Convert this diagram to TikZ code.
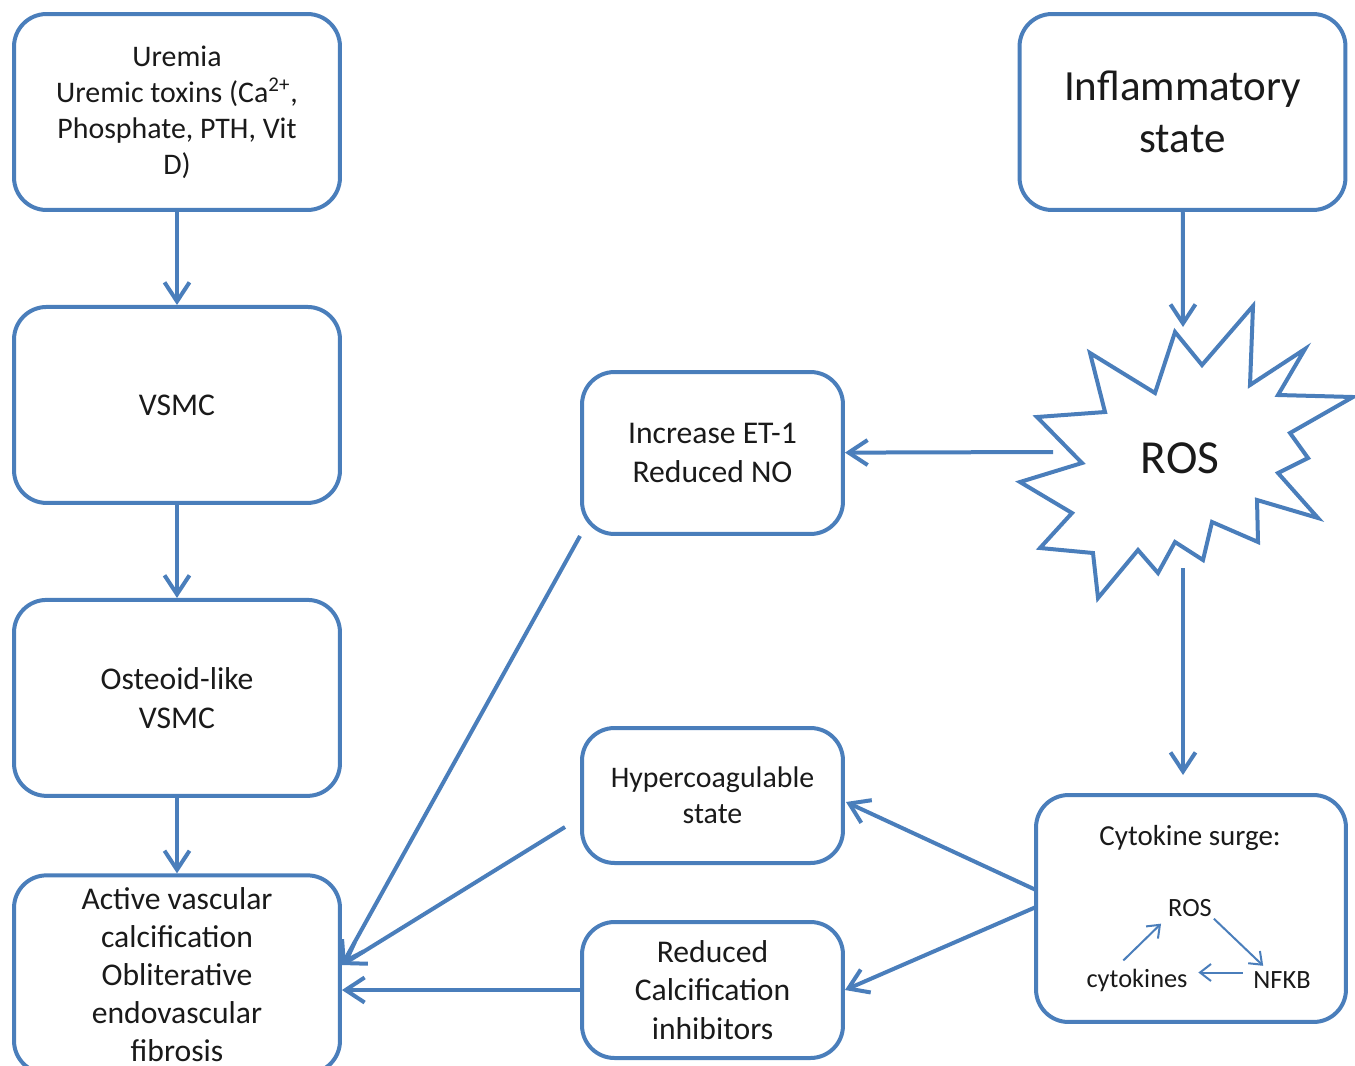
\documentclass[tikz,border=0pt]{standalone}
\usepackage{fontspec}
\setmainfont{Carlito}
\usetikzlibrary{arrows.meta}
\definecolor{boxblue}{RGB}{74,126,187}
\definecolor{inktext}{RGB}{26,26,26}
\tikzstyle{box} = [rectangle, rounded corners=0.65cm, minimum width=6.52cm, minimum height=3.92cm, inner sep=2pt, text centered, align=center, draw=boxblue, line width=0.08cm, fill=white, text=inktext, font=\fontsize{18}{22}\selectfont]
\tikzstyle{mid} = [box, minimum width=5.22cm]
\tikzstyle{small} = [text=inktext, inner sep=1pt, font=\fontsize{15}{18}\selectfont]
\tikzstyle{burst} = [draw=boxblue, line width=0.08cm, fill=white]
\tikzstyle{arrow} = [draw=boxblue, line width=0.08cm, -{Straight Barb[length=0.38cm, width=0.5cm]}]
\tikzstyle{thinarrow} = [draw=boxblue, line width=0.04cm, -{Straight Barb[length=0.22cm, width=0.34cm]}]
\begin{document}
\begin{tikzpicture}[x=0.02cm, y=-0.02cm, node distance=5.86cm]
\useasboundingbox (0,0) rectangle (1355,1065);
\clip (0,0) rectangle (1355,1065);

% Column 1 - Calcification pathway
\node (uremia) [box, font=\fontsize{17}{20.5}\selectfont] at (177,112) {Uremia\\Uremic toxins (Ca\textsuperscript{2+},\\Phosphate, PTH, Vit\\D)};
\node (vsmc) [box, below of=uremia] {VSMC};
\node (osteoid) [box, below of=vsmc] {Osteoid-like\\VSMC};
\node (active) [box, below of=osteoid, yshift=0.33cm, minimum height=3.96cm, font=\fontsize{18}{21.6}\selectfont] {Active vascular\\calcification\\Obliterative\\endovascular\\fibrosis};

% Column 2 - Effects
\node (et1) [mid, minimum height=3.24cm] at (712.5,453) {Increase ET-1\\Reduced NO};
\node (hyper) [mid, minimum height=2.7cm, font=\fontsize{17}{20.5}\selectfont] at (712.5,795.5) {Hypercoagulable\\state};
\node (reduced) [mid, minimum height=2.72cm] at (712.5,990) {Reduced\\Calcification\\inhibitors};

% Column 3 - Inflammation
\node (inflam) [box, font=\fontsize{24.5}{29.6}\selectfont] at (1182.5,112) {Inflammatory\\state};

\draw [burst] (1175,332) -- (1202,365) -- (1253,306) -- (1250,385) -- (1305,349) -- (1278,395)
  -- (1353,397) -- (1290,433) -- (1308,458) -- (1278,473) -- (1318,518) -- (1257,500)
  -- (1258,542) -- (1212,522) -- (1203,560) -- (1175,542) -- (1158,573) -- (1138,550)
  -- (1098,598) -- (1093,553) -- (1040,548) -- (1072,513) -- (1020,482) -- (1082,463)
  -- (1037,417) -- (1105,412) -- (1090,353) -- (1155,393) -- cycle;
\node (ros) [text=inktext, font=\fontsize{27}{32}\selectfont] at (1180,458) {ROS};

\node (cyto) [box, minimum width=6.2cm, minimum height=4.54cm] at (1191,908.5) {};
\node (surge) [small, font=\fontsize{16.5}{20}\selectfont] at (1190,838) {Cytokine surge:};
\node (rossmall) [small] at (1190,908) {ROS};
\node (cytk) [small] at (1137,980) {cytokines};
\node (nfkb) [small] at (1282,980) {NFKB};

% Free ends
\coordinate (rosN) at (1183,327);
\coordinate (rosW) at (1053,452);
\coordinate (rosS) at (1183,568);
\coordinate (cytoN) at (1183,775);
\coordinate (cytoA) at (1036,890);
\coordinate (cytoB) at (1036,907);
\coordinate (hyperIn) at (846,802);
\coordinate (hyperOut) at (565,827);
\coordinate (activeIn) at (342,965);

% Column 1 - Arrows
\draw [arrow] (uremia) -- (vsmc);
\draw [arrow] (vsmc) -- (osteoid);
\draw [arrow] (osteoid) -- (active);

% Column 3 - Arrows
\draw [arrow] (inflam) -- (rosN);
\draw [arrow] (rosW) -- (et1);
\draw [arrow] (rosS) -- (cytoN);
\draw [arrow] (cytoA) -- (hyperIn);
\draw [arrow] (cytoB) -- (reduced.east);

% Column 2 - Arrows
\draw [arrow] (et1.south west) -- (activeIn);
\draw [arrow] (hyperOut) -- (activeIn);
\draw [arrow] (reduced) -- (reduced -| active.east);

% Cytokine loop
\draw [thinarrow, shorten <=5pt, shorten >=4pt] ([xshift=-0.4cm]cytk.north) -- (rossmall.south west);
\draw [thinarrow, shorten >=3pt] (rossmall.south east) -- ([xshift=-0.3cm]nfkb.north);
\draw [thinarrow, shorten <=5pt, shorten >=5pt] ([yshift=0.15cm]nfkb.west) -- ([yshift=0.15cm]cytk.east);

\end{tikzpicture}
\end{document}
